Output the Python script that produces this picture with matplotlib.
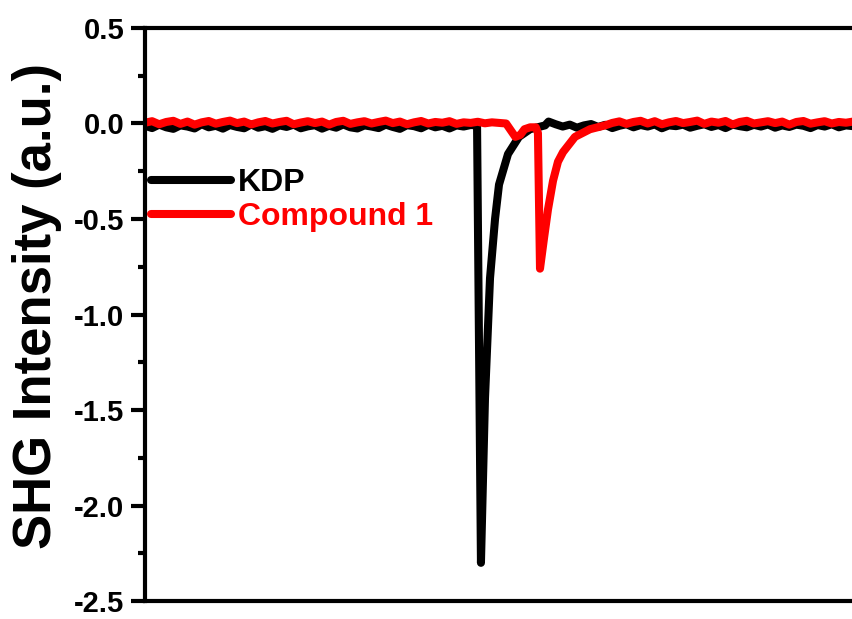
import numpy as np
import matplotlib
matplotlib.use("Agg")
import matplotlib.pyplot as plt
from matplotlib.ticker import MultipleLocator

plt.rcParams['font.family'] = ['Liberation Sans', 'DejaVu Sans']
plt.rcParams['font.weight'] = 'bold'

# ---- data (arbitrary time units, 0-100) ----
kdp_pre_y = [-0.012, -0.024, -0.006, -0.020, -0.028, -0.010, -0.016, -0.026, -0.004, -0.020,
             -0.012, -0.027, -0.008, -0.018, -0.025, -0.005, -0.022, -0.014, -0.028, -0.010,
             -0.018, -0.006, -0.025, -0.015, -0.009, -0.027, -0.012, -0.022, -0.005, -0.020,
             -0.026, -0.010, -0.016, -0.024, -0.006, -0.018, -0.028, -0.009, -0.014, -0.025,
             -0.007, -0.020, -0.012, -0.026, -0.010, -0.016, -0.008]
kdp_peak_x = [46.9, 47.45, 48.02, 48.73, 49.44, 50.0, 51.27, 52.82, 54.38, 56.5]
kdp_peak_y = [-0.01, -2.30, -1.44, -0.81, -0.50, -0.32, -0.16, -0.07, -0.03, -0.01]
kdp_post_y = [0.010, -0.004, -0.016, -0.006, -0.022, -0.010, -0.003, -0.018, -0.007, -0.024,
              -0.012, -0.004, -0.020, -0.008, -0.016, -0.005, -0.025, -0.010, -0.014, -0.006,
              -0.022, -0.012, -0.004, -0.018, -0.008, -0.024, -0.006, -0.014, -0.020, -0.007,
              -0.016, -0.005, -0.022, -0.010, -0.018, -0.006, -0.012, -0.024, -0.008, -0.016,
              -0.004, -0.020, -0.010, -0.014]

c1_pre_y = [0.004, 0.012, -0.004, 0.008, 0.014, -0.002, 0.010, -0.006, 0.006, 0.013,
            -0.001, 0.008, 0.015, 0.002, 0.010, -0.005, 0.006, 0.013, 0.000, 0.008,
            0.014, -0.004, 0.005, 0.012, 0.002, 0.010, -0.006, 0.008, 0.014, -0.002,
            0.006, 0.012, 0.000, 0.008, 0.015, 0.002, 0.010, -0.004, 0.006, 0.013,
            0.000, 0.008, 0.004, 0.012, -0.002, 0.006, 0.003, 0.009, 0.001, 0.006,
            0.003, 0.000]
c1_peak_x = [52.3, 53.0, 53.6, 54.4, 55.2, 55.5, 55.79, 56.36, 56.92, 57.63, 58.33, 59.04,
             60.73, 62.85, 64.97]
c1_peak_y = [-0.07, -0.06, -0.03, -0.02, -0.02, -0.05, -0.76, -0.60, -0.45, -0.30, -0.20,
             -0.15, -0.07, -0.03, -0.01]
c1_post_y = [0.003, 0.011, -0.002, 0.008, 0.014, 0.000, 0.012, -0.004, 0.006, 0.013,
             0.002, 0.008, 0.015, -0.002, 0.010, 0.004, 0.013, -0.005, 0.008, 0.014,
             0.000, 0.006, 0.012, 0.002, 0.010, -0.006, 0.008, 0.013, -0.001, 0.006,
             0.012, 0.000, 0.008, 0.004, 0.010]

kdp_x = list(np.arange(0, 47)) + kdp_peak_x + list(np.arange(57, 101))
kdp_y = kdp_pre_y + kdp_peak_y + kdp_post_y
c1_x = list(np.arange(0, 52)) + c1_peak_x + list(np.arange(66, 101))
c1_y = c1_pre_y + c1_peak_y + c1_post_y

yticks = [0.5, 0.0, -0.5, -1.0, -1.5, -2.0, -2.5]

fig = plt.figure(figsize=(8.53, 6.19), dpi=100)
ax = fig.add_axes([0.170, 0.029, 0.83, 0.9258])

ax.plot(kdp_x, kdp_y, color='black', lw=5.8, solid_capstyle='round',
        solid_joinstyle='round', label='KDP')
ax.plot(c1_x, c1_y, color='#ff0000', lw=5.8, solid_capstyle='round',
        solid_joinstyle='round', label='Compound 1')

ax.set_xlim(0, 100)
ax.set_ylim(-2.5, 0.5)
ax.set_yticks(yticks)
ax.set_yticklabels([f"{v:.1f}" for v in yticks])
ax.yaxis.set_minor_locator(MultipleLocator(0.25))
ax.tick_params(axis='y', which='major', direction='out', length=10, width=3,
               labelsize=21, pad=5)
ax.tick_params(axis='y', which='minor', direction='out', length=5, width=3)
ax.tick_params(axis='x', which='both', bottom=False, labelbottom=False)
for lab in ax.get_yticklabels():
    lab.set_fontweight('bold')

for s in ['left', 'bottom', 'top']:
    ax.spines[s].set_linewidth(3)
ax.spines['right'].set_visible(False)

ax.set_ylabel('SHG Intensity (a.u.)', fontsize=38, fontweight='bold')
ax.yaxis.set_label_coords(-0.117, 0.515)

leg = ax.legend(loc='upper left', bbox_to_anchor=(0.008, 0.7557), frameon=False,
                handlelength=2.5, handletextpad=0.22, labelspacing=0.13,
                borderpad=0, borderaxespad=0, labelcolor='linecolor',
                prop={'weight': 'bold', 'size': 23})

fig.savefig('out.png', dpi=100)
